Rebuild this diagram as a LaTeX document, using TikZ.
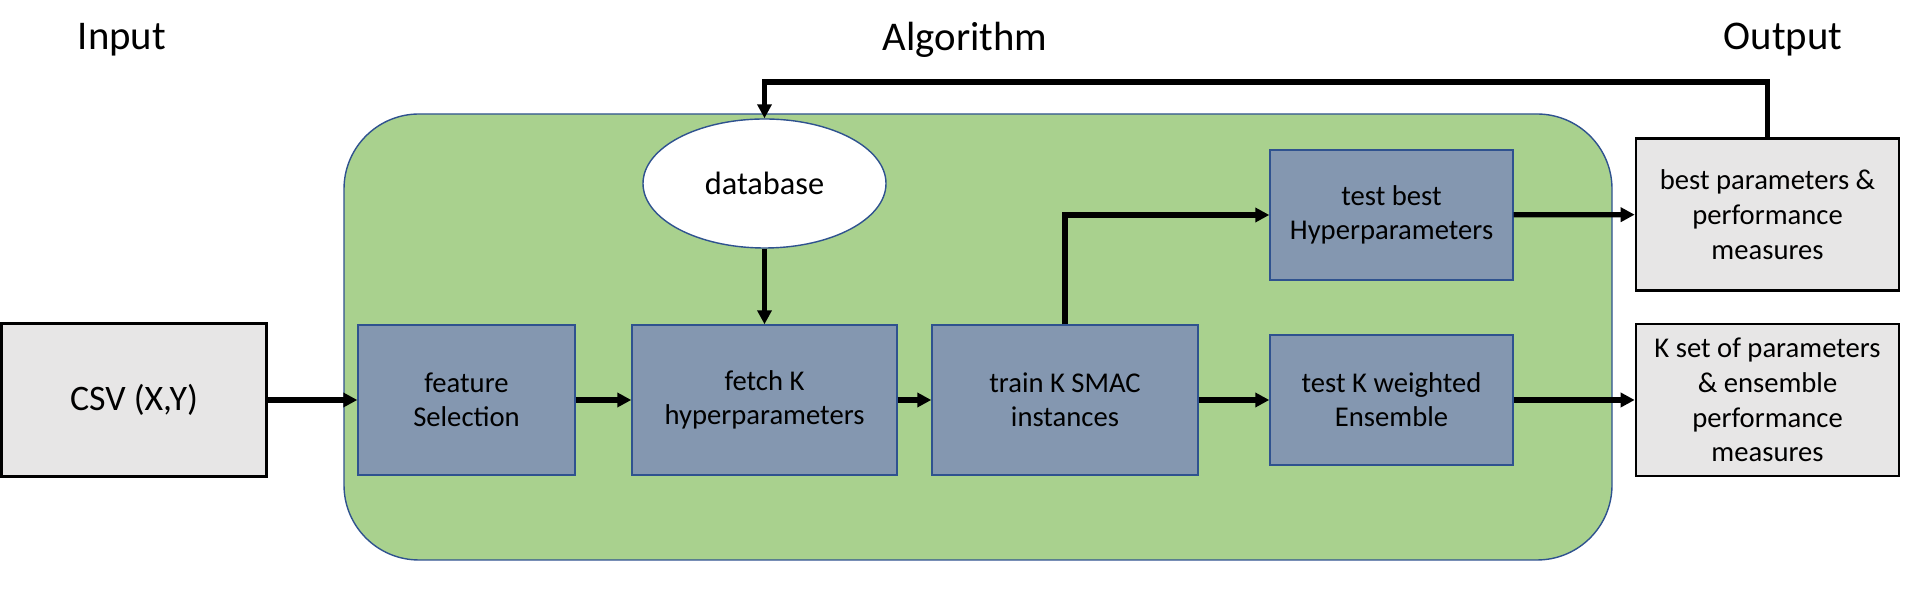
\documentclass[tikz,border=0pt]{standalone}
\usepackage{fontspec}
\setmainfont{Carlito}
\usetikzlibrary{arrows.meta, shapes.geometric}
\definecolor{algofill}{HTML}{A9D18E}
\definecolor{algoline}{HTML}{2F528F}
\definecolor{stepfill}{HTML}{8497B0}
\definecolor{iofill}{HTML}{E7E6E6}

\begin{document}
\begin{tikzpicture}[
  title/.style={font=\fontsize{23.2}{28}\selectfont},
  iobox/.style={draw=black, fill=iofill, line width=1.5pt, minimum width=5.26cm,
                minimum height=3.04cm, align=center, inner sep=2pt,
                font=\fontsize{16.3}{19.8}\selectfont},
  stepbox/.style={draw=algoline, fill=stepfill, line width=0.8pt, minimum height=3.0cm,
                  align=center, inner sep=2pt, font=\fontsize{16.3}{19.4}\selectfont},
  dbnode/.style={ellipse, draw=algoline, fill=white, line width=0.8pt, minimum width=4.86cm,
                 minimum height=2.58cm, inner sep=0pt, font=\fontsize{18.4}{22}\selectfont},
  flow/.style={-{Triangle[length=0.28cm, width=0.28cm]}, line width=3pt},
]
\useasboundingbox (0,0) rectangle (38.16,11.9);
% titles
\node[title] (tin) at (2.44,11.1) {Input};
\node[title] (talg) at (19.30,11.1) {Algorithm};
\node[title] (tout) at (35.66,11.1) {Output};
% algorithm area
\node[draw=algoline, fill=algofill, rounded corners=1.5cm, line width=0.8pt,
      minimum width=25.36cm, minimum height=8.92cm] (algo) at (19.56,5.16) {};
% input
\node[iobox, minimum width=5.30cm, minimum height=3.06cm, font=\fontsize{20.4}{24}\selectfont]
  (csv) at (2.68,3.90) {CSV (X,Y)};
% steps
\node[stepbox, minimum width=4.34cm] (feat) at (9.33,3.90) {feature\\Selection};
\node[stepbox, minimum width=5.30cm] (fetch) at (15.29,3.90) {fetch K\\hyperparameters};
\node[dbnode] (db) at (15.29,8.23) {database};
\node[stepbox, minimum width=5.32cm] (train) at (21.30,3.90) {train K SMAC\\instances};
\node[stepbox, minimum width=4.86cm, minimum height=2.6cm] (tbest) at (27.83,7.60)
  {test best\\Hyperparameters};
\node[stepbox, minimum width=4.86cm, minimum height=2.6cm] (tens) at (27.83,3.90)
  {test K weighted\\Ensemble};
% outputs
\node[iobox] (outbest) at (35.35,7.61) {best parameters \&\\performance\\measures};
\node[iobox] (outens) at (35.35,3.90) {K set of parameters\\\& ensemble\\performance\\measures};
% arrows
\coordinate (top) at (0,10.26);
\draw[flow] (csv) -- (feat);
\draw[flow] (feat) -- (fetch);
\draw[flow] (db) -- (fetch);
\draw[flow] (fetch) -- (train);
\draw[flow] (train) -- (tens);
\draw[flow] (train.north) |- (tbest.west);
\draw[flow] (tbest) -- (outbest);
\draw[flow] (tens) -- (outens);
\draw[flow] (outbest.north) -- (outbest.north |- top) -| (db.north);
\end{tikzpicture}
\end{document}
